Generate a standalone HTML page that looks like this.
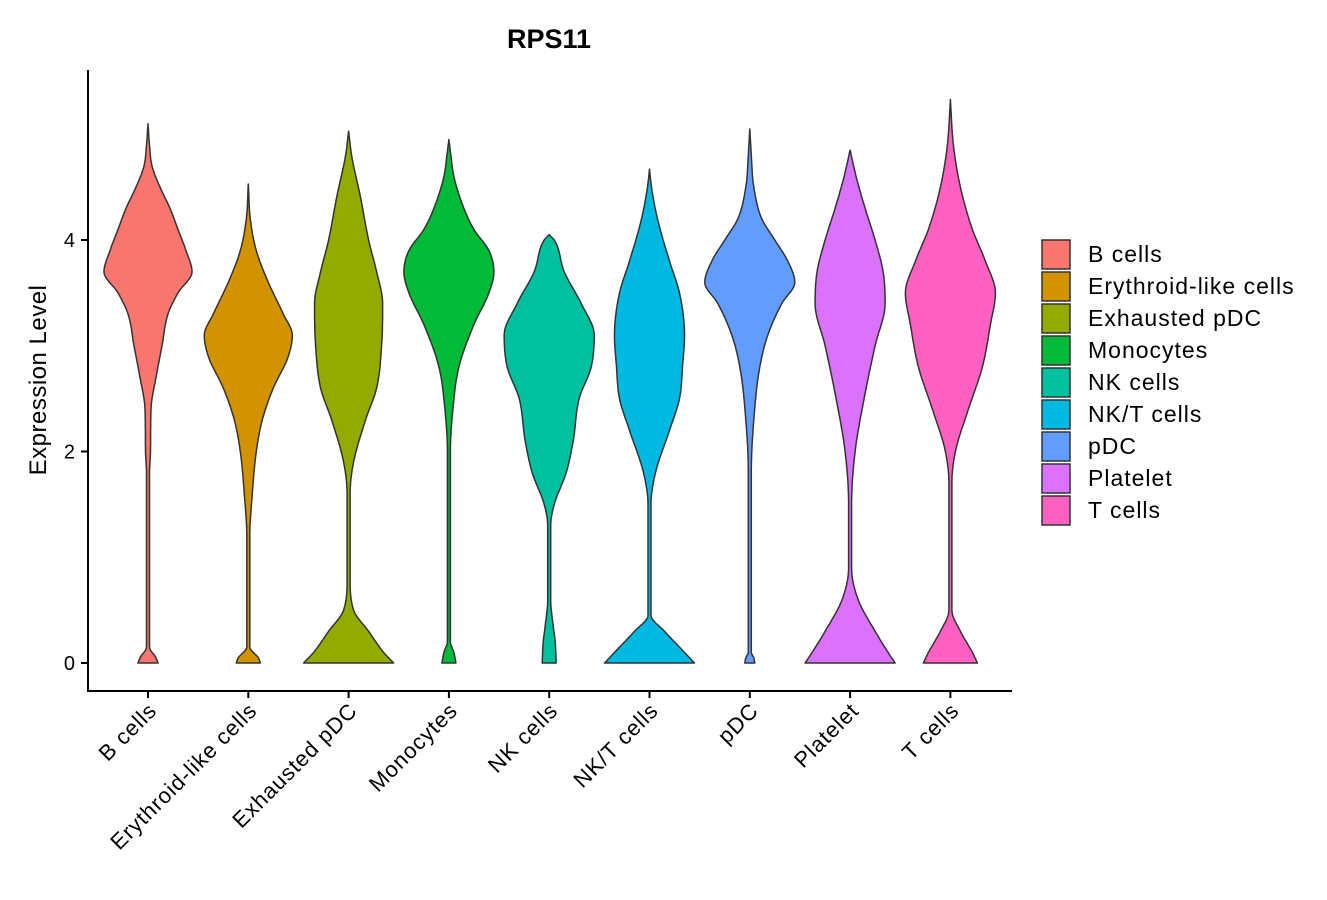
<!DOCTYPE html>
<html><head><meta charset="utf-8"><style>
html,body{margin:0;padding:0;background:#fff;}
svg{display:block;font-family:"Liberation Sans","DejaVu Sans",sans-serif;}
</style></head><body>
<svg id="chart" width="1327" height="900" viewBox="0 0 1327 900">
<text x="549" y="48" text-anchor="middle" font-size="27" font-weight="bold">RPS11</text>
<text transform="translate(46,380) rotate(-90)" text-anchor="middle" font-size="24" letter-spacing="0.5">Expression Level</text>
<g id="violins"></g>
<line x1="88" y1="70" x2="88" y2="692" stroke="#000" stroke-width="2"/>
<line x1="87" y1="691" x2="1012" y2="691" stroke="#000" stroke-width="2"/>
<g id="yticks"></g><g id="xticks"></g><g id="legend"></g>
</svg>
<script>
const categories=["B cells","Erythroid-like cells","Exhausted pDC","Monocytes","NK cells","NK/T cells","pDC","Platelet","T cells"];
const colors=["#F8766D","#D39200","#93AA00","#00BA38","#00C19F","#00B9E3","#619CFF","#DB72FB","#FF61C3"];
const yTicks=[0,2,4];
const profileValues=[
[0,0.05,0.15,1.8,2.0,2.4,2.7,3.0,3.3,3.5,3.7,3.9,4.1,4.3,4.5,4.7,4.9,5.1],
[0,0.05,0.15,1.2,1.6,2.0,2.3,2.6,2.9,3.1,3.3,3.6,3.9,4.2,4.53],
[0,0.1,0.3,0.5,0.8,1.6,1.9,2.3,2.6,3.0,3.4,3.7,4.0,4.4,4.8,5.03],
[0,0.1,0.2,2.0,2.4,2.8,3.2,3.5,3.7,3.9,4.1,4.3,4.6,4.8,4.95],
[0,0.2,0.35,0.6,1.3,1.5,1.8,2.1,2.5,2.8,3.1,3.4,3.7,4.0,4.05],
[0,0.1,0.3,0.45,1.5,1.8,2.2,2.5,2.8,3.1,3.5,3.8,4.2,4.5,4.67],
[0,0.05,0.1,1.8,2.3,2.8,3.1,3.4,3.6,3.8,4.0,4.2,4.5,4.8,5.05],
[0,0.1,0.3,0.6,0.9,1.5,2.0,2.5,3.0,3.4,3.7,4.0,4.3,4.6,4.85],
[0,0.1,0.3,0.5,1.7,2.0,2.4,2.8,3.2,3.5,3.8,4.1,4.5,4.9,5.33]];
const profileDensity=[
[10,8,1.5,1.5,2.5,3,8,14,20,30,44,38,30,22,12,4,1.5,0],
[12,10,1.5,1.5,4,8,14,25,40,44,35,20,8,2,0],
[45,35,20,5,1.5,1.5,5,17,28,33,34,28,20,12,3,0],
[7,5,1.5,1.5,4,10,25,40,45,40,25,15,5,2,0],
[7,6,4,1.5,1.5,5,17,24,30,42,45,32,15,5,0],
[45,35,15,1.5,1.5,6,20,30,33,35,30,20,8,2,0],
[5,4,1.5,1.5,4,10,18,32,45,38,25,12,4,1.5,0],
[45,38,25,8,1.5,1.5,5,14,25,35,33,25,15,6,0],
[27,22,10,1.5,1.5,5,18,32,40,45,35,22,10,3,0]];
const NS="http://www.w3.org/2000/svg";
function yScale(v){return 663-v*105.75;}
function xScale(i){return 148+i*100.3;}
function wScale(d){return d;}
// monotone cubic interpolation (Fritsch-Carlson), no overshoot
function monotone(xs,ys){
 const n=xs.length,d=[],m=new Array(n);
 for(let i=0;i<n-1;i++)d.push((ys[i+1]-ys[i])/(xs[i+1]-xs[i]));
 m[0]=d[0];m[n-1]=d[n-2];
 for(let i=1;i<n-1;i++){m[i]=(d[i-1]*d[i]<=0)?0:(d[i-1]+d[i])/2;}
 for(let i=0;i<n-1;i++){
  if(d[i]===0){m[i]=0;m[i+1]=0;continue;}
  const a=m[i]/d[i],b=m[i+1]/d[i],s=a*a+b*b;
  if(s>9){const t=3/Math.sqrt(s);m[i]=t*a*d[i];m[i+1]=t*b*d[i];}
 }
 return function(x){
  let i=0;while(i<n-2&&x>xs[i+1])i++;
  const h=xs[i+1]-xs[i],t=(x-xs[i])/h,t2=t*t,t3=t2*t;
  return (2*t3-3*t2+1)*ys[i]+(t3-2*t2+t)*h*m[i]+(-2*t3+3*t2)*ys[i+1]+(t3-t2)*h*m[i+1];
 };
}
const vg=document.getElementById("violins");
categories.forEach((c,i)=>{
 const cx=xScale(i),vals=profileValues[i],dens=profileDensity[i];
 const f=monotone(vals,dens);
 const top=vals[vals.length-1],N=300;
 const right=[],left=[];
 for(let k=0;k<=N;k++){
  const v=top*k/N,w=Math.max(0,wScale(f(v)));
  right.push((cx+w).toFixed(1)+","+yScale(v).toFixed(1));
  left.push((cx-w).toFixed(1)+","+yScale(v).toFixed(1));
 }
 const d="M"+right.join(" L")+" L"+left.reverse().join(" L")+" Z";
 const p=document.createElementNS(NS,"path");
 p.setAttribute("d",d);p.setAttribute("fill",colors[i]);p.setAttribute("stroke","#333");p.setAttribute("stroke-width","1.5");p.setAttribute("stroke-linejoin","round");
 
 
 vg.appendChild(p);
});
const yt=document.getElementById("yticks");
yTicks.forEach(t=>{
 const y=yScale(t);
 const l=document.createElementNS(NS,"line");
 l.setAttribute("x1",81);l.setAttribute("x2",88);l.setAttribute("y1",y);l.setAttribute("y2",y);l.setAttribute("stroke","#000");l.setAttribute("stroke-width","2");
 
 
 yt.appendChild(l);
 const tx=document.createElementNS(NS,"text");
 tx.setAttribute("x",75);tx.setAttribute("y",y+7);tx.setAttribute("text-anchor","end");tx.setAttribute("font-size","20");tx.textContent=t;
 
 
 yt.appendChild(tx);
});
const xt=document.getElementById("xticks");
categories.forEach((c,i)=>{
 const x=xScale(i);
 const l=document.createElementNS(NS,"line");
 l.setAttribute("x1",x);l.setAttribute("x2",x);l.setAttribute("y1",691);l.setAttribute("y2",698);l.setAttribute("stroke","#000");l.setAttribute("stroke-width","2");
 
 
 xt.appendChild(l);
 const tx=document.createElementNS(NS,"text");
 tx.setAttribute("transform","translate("+(x+10)+",712) rotate(-45)");tx.setAttribute("text-anchor","end");tx.setAttribute("font-size","22");tx.setAttribute("letter-spacing","0.9");tx.textContent=c;
 
 
 xt.appendChild(tx);
});
const lg=document.getElementById("legend");
categories.forEach((c,i)=>{
 const y=240+i*32;
 const r=document.createElementNS(NS,"rect");
 r.setAttribute("x",1042);r.setAttribute("y",y);r.setAttribute("width",28);r.setAttribute("height",29);r.setAttribute("fill",colors[i]);r.setAttribute("stroke","#333");r.setAttribute("stroke-width","1.5");
 
 
 lg.appendChild(r);
 const tx=document.createElementNS(NS,"text");
 tx.setAttribute("x",1088);tx.setAttribute("y",y+22);tx.setAttribute("font-size","23");tx.setAttribute("letter-spacing","1");tx.textContent=c;
 
 
 lg.appendChild(tx);
});
</script>
</body></html>
